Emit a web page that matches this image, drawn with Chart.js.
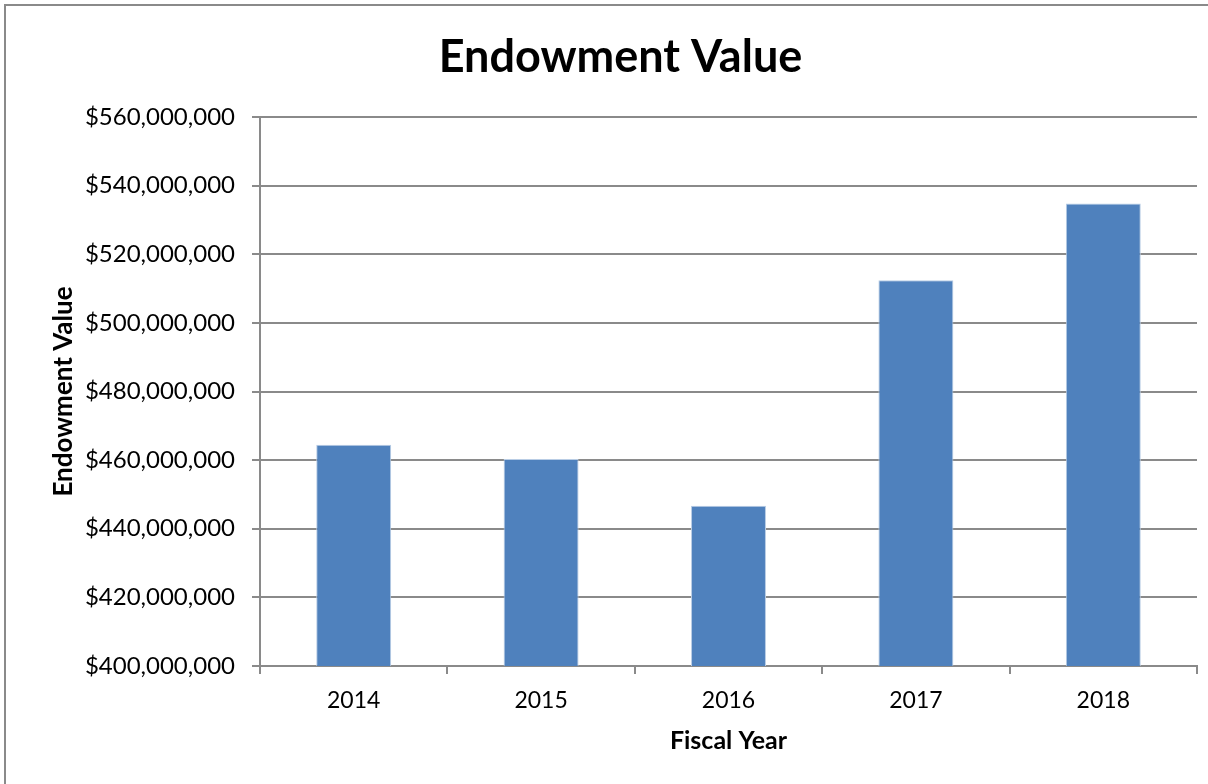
<!DOCTYPE html>
<html>
<head>
<meta charset="utf-8">
<script src="https://cdn.jsdelivr.net/npm/chart.js@4/dist/chart.umd.min.js"></script>
<style>
  html, body { margin: 0; padding: 0; background: #fff; }
  #wrap { position: relative; width: 1208px; height: 784px; }
</style>
</head>
<body>
<div id="wrap"><canvas id="c" width="1208" height="784"></canvas></div>
<script>
const categories = ['2014', '2015', '2016', '2017', '2018'];
const endowmentValues = [464500000, 460300000, 446700000, 512400000, 534800000];
const yTickMin = 400000000;
const yTickMax = 560000000;
const yTickStep = 20000000;
const chartTitle = 'Endowment Value';
const xAxisTitle = 'Fiscal Year';
const yAxisTitle = 'Endowment Value';

const FONT = 'Lato, "Open Sans", sans-serif';
const GRID = '#8a8a8a';
const PAD_LEFT = 44;

const frame = {
  id: 'frame',
  beforeDraw(chart) {
    const ctx = chart.ctx;
    ctx.save();
    ctx.fillStyle = '#fff';
    ctx.fillRect(0, 0, chart.width, chart.height);
    ctx.strokeStyle = '#8a8a8a';
    ctx.lineWidth = 2;
    ctx.beginPath();
    ctx.moveTo(5, chart.height);
    ctx.lineTo(5, 5);
    ctx.lineTo(chart.width, 5);
    ctx.stroke();
    ctx.restore();
  }
};

new Chart(document.getElementById('c'), {
  type: 'bar',
  data: {
    labels: categories,
    datasets: [{
      label: 'Endowment Value',
      data: endowmentValues,
      backgroundColor: '#4F81BD',
      borderColor: '#b9cde5',
      borderWidth: 1,
      borderSkipped: 'bottom',
      categoryPercentage: 1.0,
      barPercentage: 0.4
    }]
  },
  options: {
    responsive: false,
    animation: false,
    layout: { padding: { top: 0, right: 11, bottom: 0, left: PAD_LEFT } },
    plugins: {
      legend: { display: false },
      tooltip: { enabled: false },
      title: {
        display: true,
        text: chartTitle,
        color: '#000',
        font: { family: FONT, size: 45, weight: 'bold', lineHeight: 1.2 },
        padding: { top: 30.5, bottom: 32.5 }
      }
    },
    scales: {
      x: {
        grid: {
          display: true,
          drawOnChartArea: false,
          drawTicks: true,
          tickLength: 8,
          color: GRID,
          lineWidth: 2,
          offset: true
        },
        border: { display: true, color: GRID, width: 2 },
        ticks: {
          color: '#000',
          font: { family: FONT, size: 23 },
          padding: 13
        },
        title: {
          display: true,
          text: xAxisTitle,
          color: '#000',
          font: { family: FONT, size: 25, weight: 'bold', lineHeight: 1.2 },
          padding: { top: 0, bottom: 28 }
        },
        afterFit(scale) { scale.height = 784 - 666; }
      },
      y: {
        min: yTickMin,
        max: yTickMax,
        grid: {
          color: GRID,
          lineWidth: 2,
          drawTicks: true,
          tickLength: 8
        },
        border: { display: true, color: GRID, width: 2 },
        ticks: {
          stepSize: yTickStep,
          color: '#000',
          font: { family: FONT, size: 24 },
          padding: 17,
          callback: (v) => '$' + Number(v).toLocaleString('en-US')
        },
        title: {
          display: true,
          text: yAxisTitle,
          color: '#000',
          font: { family: FONT, size: 26, weight: 'bold', lineHeight: 1.2 },
          padding: { top: 4, bottom: 0 }
        },
        afterFit(scale) { scale.width = 260 - PAD_LEFT; }
      }
    }
  },
  plugins: [frame]
});
</script>
</body>
</html>
